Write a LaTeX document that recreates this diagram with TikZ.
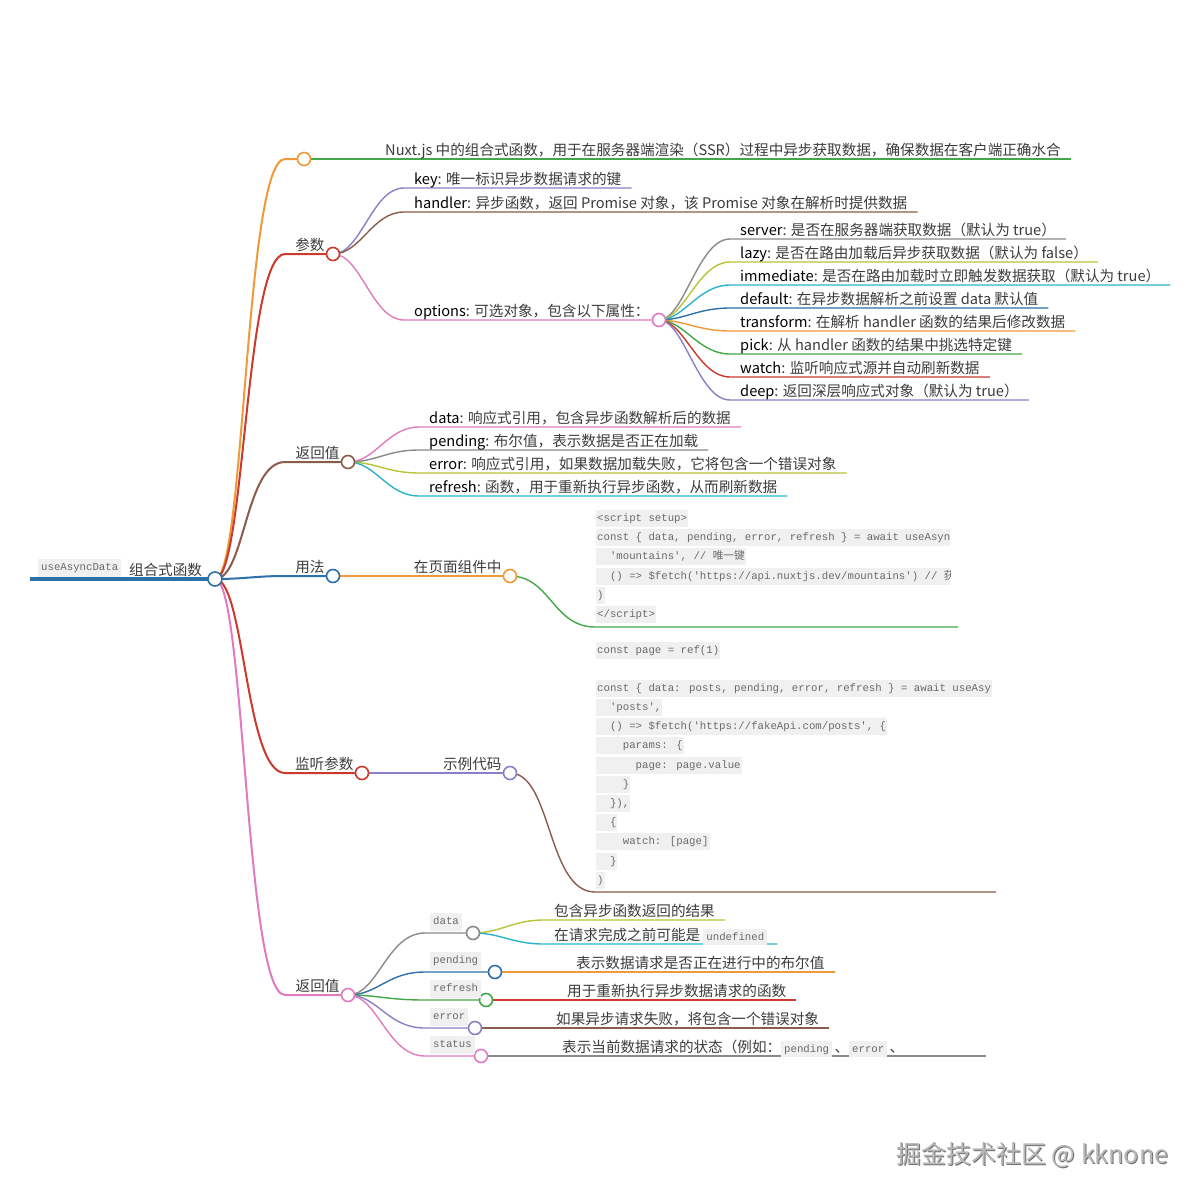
\documentclass[tikz,border=0pt]{standalone}
\usepackage{fontspec}
\setmainfont{Noto Sans CJK SC}
\newfontfamily\codefont{Liberation Mono}
\newfontfamily\cjkcode{Noto Sans CJK SC}
\pgfdeclarelayer{bg}
\pgfsetlayers{bg,main}
\definecolor{cblue}{HTML}{2E70A8}
\definecolor{corange}{HTML}{EF9A3A}
\definecolor{cred}{HTML}{CC3A2E}
\definecolor{cbrown}{HTML}{8B5B4C}
\definecolor{cpink}{HTML}{E07BBF}
\definecolor{cpurple}{HTML}{8A80C6}
\definecolor{cgray}{HTML}{8A8A8A}
\definecolor{cyg}{HTML}{B8C435}
\definecolor{ccyan}{HTML}{2AB4CA}
\definecolor{cgreen}{HTML}{42A848}
\definecolor{codebg}{HTML}{F0F0F0}
\definecolor{codefg}{HTML}{6A6A6A}
\definecolor{txtc}{HTML}{3C3C3C}
\newcommand\mfs{\fontsize{14.6}{17}\selectfont}
\newcommand\cfs{\codefont\fontsize{10.7}{12}\selectfont}
\newcommand\kw[1]{{\color{black}#1}}
\newcommand\ic[1]{{\setlength\fboxsep{0pt}\colorbox{codebg}{\cfs\color{codefg}\rule[-4pt]{0pt}{16pt}\hspace{3pt}#1\hspace{3pt}}}}
\tikzset{
  lbl/.style={anchor=south west, inner xsep=10pt, inner ysep=3pt, text depth=0pt, font=\mfs, text=txtc},
  lbr/.style={anchor=south east, inner xsep=1pt, inner ysep=3pt, text depth=0pt, font=\mfs, text=txtc},
  knob/.style={circle, draw=#1, fill=white, line width=1.6pt, minimum size=13pt, inner sep=0pt},
  codeln/.style={anchor=west, fill=codebg, inner xsep=1pt, inner ysep=3pt, text height=8.5pt, text depth=2.5pt, font=\cfs, text=codefg},
  codetag/.style={anchor=south west, fill=codebg, inner xsep=3pt, inner ysep=3.5pt, text height=8.5pt, text depth=2.5pt, font=\cfs, text=codefg},
  conn/.style={draw=#1, line width=1.4pt},
  connA/.style={draw=#1, line width=2pt},
}
\begin{document}
\begin{tikzpicture}[x=1pt,y=-1pt]
\useasboundingbox (0,0) rectangle (1200,1200);
\begin{pgfonlayer}{bg}
\fill[white] (0,0) rectangle (1200,1200);
\end{pgfonlayer}
\coordinate (L1) at (285,0);
\coordinate (L3) at (425,0);
\coordinate (rootL) at (30,579);

% root
\node[knob=cblue, minimum size=14pt] (root) at (215,579) {};
\node[lbr, inner xsep=5pt] (rt) at (root.west) {组合式函数};
\node[codetag] (ua) at (38,577) {useAsyncData};

% level 1
\node[knob=corange] (c0) at (304,159) {};
\node[knob=cred] (cP) at (333,254) {};
\node[lbr] (tP) at (cP.west) {参数};
\node[knob=cbrown] (cR) at (348,462) {};
\node[lbr] (tR) at (cR.west) {返回值};
\node[knob=cblue] (cU) at (333,576) {};
\node[lbr] (tU) at (cU.west) {用法};
\node[knob=cred] (cW) at (362,773) {};
\node[lbr] (tW) at (cW.west) {监听参数};
\node[knob=cpink] (cR2) at (348,995) {};
\node[lbr] (tR2) at (cR2.west) {返回值};

% Nuxt description
\node[lbl] (tN) at (375,159) {Nuxt.js 中的组合式函数，用于在服务器端渲染（SSR）过程中异步获取数据，确保数据在客户端正确水合};

% 参数 children
\node[lbl] (tkey) at (404,188) {\kw{key}: 唯一标识异步数据请求的键};
\node[lbl] (thd) at (404,212) {\kw{handler}: 异步函数，返回 Promise 对象，该 Promise 对象在解析时提供数据};
\node[lbl] (topt) at (404,320) {\kw{options}: 可选对象，包含以下属性：};
\node[knob=cpink] (cO) at (659,320) {};

% options children
\node[lbl] (o1) at (730,239) {\kw{server}: 是否在服务器端获取数据（默认为 true）};
\node[lbl] (o2) at (730,262) {\kw{lazy}: 是否在路由加载后异步获取数据（默认为 false）};
\node[lbl] (o3) at (730,285) {\kw{immediate}: 是否在路由加载时立即触发数据获取（默认为 true）};
\node[lbl] (o4) at (730,308) {\kw{default}: 在异步数据解析之前设置 data 默认值};
\node[lbl] (o5) at (730,331) {\kw{transform}: 在解析 handler 函数的结果后修改数据};
\node[lbl] (o6) at (730,354) {\kw{pick}: 从 handler 函数的结果中挑选特定键};
\node[lbl] (o7) at (730,377) {\kw{watch}: 监听响应式源并自动刷新数据};
\node[lbl] (o8) at (730,400) {\kw{deep}: 返回深层响应式对象（默认为 true）};

% 返回值 children
\node[lbl] (r1) at (419,427) {\kw{data}: 响应式引用，包含异步函数解析后的数据};
\node[lbl] (r2) at (419,450) {\kw{pending}: 布尔值，表示数据是否正在加载};
\node[lbl] (r3) at (419,473) {\kw{error}: 响应式引用，如果数据加载失败，它将包含一个错误对象};
\node[lbl] (r4) at (419,496) {\kw{refresh}: 函数，用于重新执行异步函数，从而刷新数据};

% 用法
\node[knob=corange] (cPg) at (510,576) {};
\node[lbr] (tPg) at (cPg.west) {在页面组件中};
\begin{scope}
\clip (590,505) rectangle (950,625);
\node[codeln] (k1) at (596,518) {<script setup>};
\node[codeln] (k2) at (596,537) {const \{ data, pending, error, refresh \} = await useAsyn};
\node[codeln] (k3) at (596,556) {\ \ 'mountains', // {\cjkcode 唯一键}};
\node[codeln] (k4) at (596,576) {\ \ () => \$fetch('https://api.nuxtjs.dev/mountains') // {\cjkcode 获}};
\node[codeln] (k5) at (596,595) {)};
\node[codeln] (k6) at (596,614) {</script>};
\end{scope}
\coordinate (u1) at (595,627);
\coordinate (u2) at (958,627);

% 监听参数
\node[knob=cpurple] (cEx) at (510,773) {};
\node[lbr] (tEx) at (cEx.west) {示例代码};
\node[codeln] (m1) at (596,650) {const page = ref(1)};
\node[codeln] (m3) at (596,688) {const \{ data: posts, pending, error, refresh \} = await useAsy};
\node[codeln] (m4) at (596,707) {\ \ 'posts',};
\node[codeln] (m5) at (596,726) {\ \ () => \$fetch('https://fakeApi.com/posts', \{};
\node[codeln] (m6) at (596,745) {\ \ \ \ params: \{};
\node[codeln] (m7) at (596,765) {\ \ \ \ \ \ page: page.value};
\node[codeln] (m8) at (596,784) {\ \ \ \ \}};
\node[codeln] (m9) at (596,803) {\ \ \}),};
\node[codeln] (m10) at (596,822) {\ \ \{};
\node[codeln] (m11) at (596,841) {\ \ \ \ watch: [page]};
\node[codeln] (m12) at (596,861) {\ \ \}};
\node[codeln] (m13) at (596,880) {)};
\coordinate (w1) at (595,892);
\coordinate (w2) at (996,892);

% 返回值 (bottom)
\node[knob=cgray] (cD) at (473,933) {};
\node[codetag] (gD) at (430,931) {data};
\node[knob=cblue] (cPe) at (495,972) {};
\node[codetag] (gP) at (430,970) {pending};
\node[knob=cgreen] (cF) at (486,1000) {};
\node[codetag] (gF) at (430,998) {refresh};
\node[knob=cpurple] (cE) at (475,1028) {};
\node[codetag] (gE) at (430,1026) {error};
\node[knob=cpink] (cS) at (481,1056) {};
\node[codetag] (gS) at (430,1054) {status};

\node[lbl] (d1) at (544,920) {包含异步函数返回的结果};
\node[lbl] (d2) at (544,944) {在请求完成之前可能是 \ic{undefined}};
\node[lbl] (pe1) at (566,972) {表示数据请求是否正在进行中的布尔值};
\node[lbl] (f1) at (557,1000) {用于重新执行异步数据请求的函数};
\node[lbl] (e1) at (546,1028) {如果异步请求失败，将包含一个错误对象};
\node[lbl] (s1) at (552,1056) {表示当前数据请求的状态（例如：\ic{pending}\,、\ic{error}\,、};
\coordinate (sEnd) at (986,1056);

% watermark
\node[anchor=west, font=\fontsize{25}{28}\selectfont, text=black!55, inner sep=0pt] (wmS) at (897,1156) {掘金技术社区 @ kknone};
\node[anchor=west, font=\fontsize{25}{28}\selectfont, text=black!28, inner sep=0pt] (wm) at (896,1155) {掘金技术社区 @ kknone};

\begin{pgfonlayer}{bg}
\draw[cblue, line width=3.5pt] (rootL) -- (root.center);
\draw[connA=corange] (root.center) .. controls +(30,0) and +(-40,0) .. (c0 -| L1) -- (c0.center);
\draw[connA=cred] (root.center) .. controls +(30,0) and +(-40,0) .. (cP -| L1) -- (cP.center);
\draw[connA=cbrown] (root.center) .. controls +(30,0) and +(-40,0) .. (cR -| L1) -- (cR.center);
\draw[connA=cblue] (root.center) .. controls +(30,0) and +(-30,0) .. (cU -| L1) -- (cU.center);
\draw[connA=cred] (root.center) .. controls +(30,0) and +(-40,0) .. (cW -| L1) -- (cW.center);
\draw[connA=cpink] (root.center) .. controls +(30,0) and +(-40,0) .. (cR2 -| L1) -- (cR2.center);

\draw[conn=cgreen] (c0.center) -- (tN.south west) -- (tN.south east);

\draw[conn=cpurple] (cP.center) .. controls +(28,0) and +(-32,0) .. (tkey.south west) -- (tkey.south east);
\draw[conn=cbrown] (cP.center) .. controls +(28,0) and +(-32,0) .. (thd.south west) -- (thd.south east);
\draw[conn=cpink] (cP.center) .. controls +(28,0) and +(-32,0) .. (topt.south west) -- (cO.center);

\draw[conn=cgray] (cO.center) .. controls +(25,0) and +(-32,0) .. (o1.south west) -- (o1.south east);
\draw[conn=cyg] (cO.center) .. controls +(25,0) and +(-32,0) .. (o2.south west) -- (o2.south east);
\draw[conn=ccyan] (cO.center) .. controls +(25,0) and +(-32,0) .. (o3.south west) -- (o3.south east);
\draw[conn=cblue] (cO.center) .. controls +(25,0) and +(-32,0) .. (o4.south west) -- (o4.south east);
\draw[conn=corange] (cO.center) .. controls +(25,0) and +(-32,0) .. (o5.south west) -- (o5.south east);
\draw[conn=cgreen] (cO.center) .. controls +(25,0) and +(-32,0) .. (o6.south west) -- (o6.south east);
\draw[conn=cred] (cO.center) .. controls +(25,0) and +(-32,0) .. (o7.south west) -- (o7.south east);
\draw[conn=cpurple] (cO.center) .. controls +(25,0) and +(-32,0) .. (o8.south west) -- (o8.south east);

\draw[conn=cpink] (cR.center) .. controls +(28,0) and +(-32,0) .. (r1.south west) -- (r1.south east);
\draw[conn=cgray] (cR.center) .. controls +(28,0) and +(-32,0) .. (r2.south west) -- (r2.south east);
\draw[conn=cyg] (cR.center) .. controls +(28,0) and +(-32,0) .. (r3.south west) -- (r3.south east);
\draw[conn=ccyan] (cR.center) .. controls +(28,0) and +(-32,0) .. (r4.south west) -- (r4.south east);

\draw[conn=corange] (cU.center) -- (cPg.center);
\draw[conn=cgreen] (cPg.center) .. controls +(40,0) and +(-42,0) .. (u1) -- (u2);

\draw[conn=cpurple] (cW.center) -- (cEx.center);
\draw[conn=cbrown] (cEx.center) .. controls +(42,0) and +(-48,0) .. (w1) -- (w2);

\draw[conn=cgray] (cR2.center) .. controls +(30,0) and +(-38,0) .. (cD -| L3) -- (cD.center);
\draw[conn=cblue] (cR2.center) .. controls +(30,0) and +(-38,0) .. (cPe -| L3) -- (cPe.center);
\draw[conn=cgreen] (cR2.center) .. controls +(30,0) and +(-38,0) .. (cF -| L3) -- (cF.center);
\draw[conn=cpurple] (cR2.center) .. controls +(30,0) and +(-38,0) .. (cE -| L3) -- (cE.center);
\draw[conn=cpink] (cR2.center) .. controls +(30,0) and +(-38,0) .. (cS -| L3) -- (cS.center);

\draw[conn=cyg] (cD.center) .. controls +(28,0) and +(-32,0) .. (d1.south west) -- (d1.south east);
\draw[conn=ccyan] (cD.center) .. controls +(28,0) and +(-32,0) .. (d2.south west) -- (d2.south east);
\draw[conn=corange] (cPe.center) -- (pe1.south east);
\draw[conn=cred] (cF.center) -- (f1.south east);
\draw[conn=cbrown] (cE.center) -- (e1.south east);
\draw[conn=cgray] (cS.center) -- (sEnd);
\end{pgfonlayer}
\end{tikzpicture}
\end{document}
